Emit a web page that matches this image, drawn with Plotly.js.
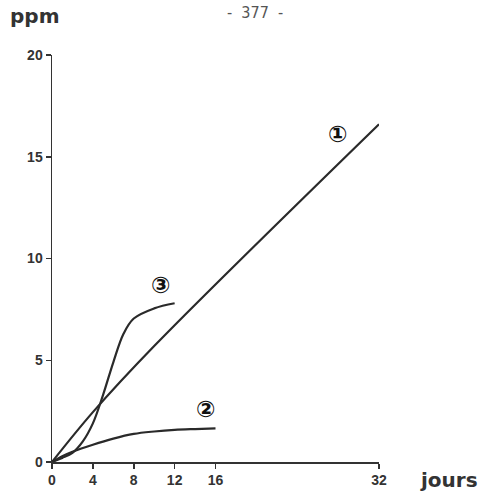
<!DOCTYPE html>
<html>
<head>
<meta charset="utf-8">
<script src="https://cdn.plot.ly/plotly-3.0.1.min.js"></script>
<style>html,body{margin:0;padding:0;background:#fff;}#chart{width:494px;height:492px;}</style>
</head>
<body>
<div id="chart"></div>
<script>
// Curve 1
const days1 = [0, 4, 10, 32];
const ppm1 = [0, 2.45, 5.7, 16.6];
// Curve 2
const days2 = [0, 1, 2, 4, 6, 8, 10, 12, 14, 16];
const ppm2 = [0, 0.28, 0.5, 0.85, 1.15, 1.38, 1.5, 1.58, 1.62, 1.65];
// Curve 3
const days3 = [0, 1, 2, 3, 4, 5, 6, 7, 8, 10, 12];
const ppm3 = [0, 0.2, 0.45, 1.0, 1.9, 3.3, 4.9, 6.3, 7.05, 7.55, 7.8];
// Ticks
const xTicks = [0, 4, 8, 12, 16, 32];
const yTicks = [0, 5, 10, 15, 20];
// Curve labels
const labelText = ['①', '②', '③'];
const labelX = [27.9, 15, 10.6];
const labelY = [16.1, 2.6, 8.7];

const lineStyle = {color: '#2a2a2a', width: 2.2, shape: 'spline', smoothing: 1};
const traces = [
  {x: days1, y: ppm1, mode: 'lines', line: lineStyle, cliponaxis: false},
  {x: days2, y: ppm2, mode: 'lines', line: lineStyle, cliponaxis: false},
  {x: days3, y: ppm3, mode: 'lines', line: lineStyle, cliponaxis: false}
];

const annotations = labelText.map((t, i) => ({
  x: labelX[i], y: labelY[i], xref: 'x', yref: 'y', text: '<b>' + t + '</b>', showarrow: false,
  font: {family: 'DejaVu Sans, Noto Sans CJK SC', size: 23, color: '#111'}
}));
annotations.push(
  {xref: 'paper', yref: 'paper', x: -0.135, y: 1.095, xanchor: 'left', yanchor: 'middle', text: '<b>ppm</b>', showarrow: false,
   font: {family: 'DejaVu Sans', size: 20, color: '#333'}},
  {xref: 'paper', yref: 'paper', x: 1.12, y: -0.045, xanchor: 'left', yanchor: 'middle', text: '<b>jours</b>', showarrow: false,
   font: {family: 'DejaVu Sans', size: 20, color: '#333'}},
  {xref: 'paper', yref: 'paper', x: 0.62, y: 1.105, xanchor: 'center', yanchor: 'middle', text: '-  377  -', showarrow: false,
   font: {family: 'DejaVu Sans Condensed, DejaVu Sans', size: 16, color: '#555'}}
);

const tickFont = {family: 'Liberation Sans', size: 14, color: '#333'};
const layout = {
  width: 494, height: 492,
  margin: {l: 52, r: 115, t: 55, b: 30, pad: 0},
  paper_bgcolor: '#fff', plot_bgcolor: '#fff',
  showlegend: false,
  xaxis: {
    range: [0, 32], tickvals: xTicks, ticktext: xTicks.map(v => '<b>' + v + '</b>'),
    showgrid: false, zeroline: false, showline: true, linecolor: '#333', linewidth: 1.5,
    ticks: 'outside', ticklen: 5, tickwidth: 1.5, tickcolor: '#333', tickfont: tickFont
  },
  yaxis: {
    range: [0, 20], tickvals: yTicks, ticktext: yTicks.map(v => '<b>' + v + '</b>'),
    showgrid: false, zeroline: false, showline: true, linecolor: '#333', linewidth: 1.5,
    ticks: 'outside', ticklen: 5, tickwidth: 1.5, tickcolor: '#333', tickfont: tickFont
  },
  annotations: annotations
};

Plotly.newPlot('chart', traces, layout, {staticPlot: true, displayModeBar: false});
</script>
</body>
</html>
